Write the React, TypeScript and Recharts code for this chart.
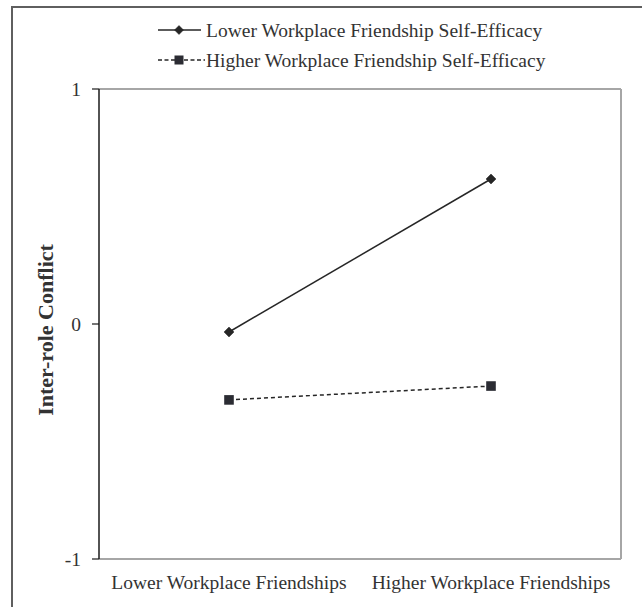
import React from "react";
import { LineChart, Line, XAxis, YAxis, CartesianGrid } from "recharts";

// values
const categories = ["Lower Workplace Friendships", "Higher Workplace Friendships"];
const lowerEfficacy = [-0.034, 0.617];
const higherEfficacy = [-0.323, -0.264];
const seriesNames = [
  "Lower Workplace Friendship Self-Efficacy",
  "Higher Workplace Friendship Self-Efficacy",
];
const yTicks = [-1, 0, 1];
const yTitle = "Inter-role Conflict";

const FONT = '"Liberation Serif", "Times New Roman", serif';
const INK = "#262626";
const TEXT = "#333333";
const FRAME = "#a6a6a6";

const data = categories.map((group, i) => ({
  group,
  lower: lowerEfficacy[i],
  higher: higherEfficacy[i],
}));

const Diamond = ({ cx, cy, size = 5 }: any) => {
  if (cx == null || cy == null) return null;
  return (
    <path
      d={`M${cx},${cy - size} L${cx + size},${cy} L${cx},${cy + size} L${cx - size},${cy} Z`}
      fill={INK}
      stroke={INK}
      strokeWidth={0.5}
    />
  );
};

const Square = ({ cx, cy, size = 4.8 }: any) => {
  if (cx == null || cy == null) return null;
  return (
    <rect
      x={cx - size}
      y={cy - size}
      width={size * 2}
      height={size * 2}
      fill="#2b2c33"
    />
  );
};

function LegendBlock() {
  return (
    <svg
      width={642}
      height={80}
      style={{ position: "absolute", left: 0, top: 0, pointerEvents: "none" }}
    >
      {/* row 1: solid + diamond */}
      <line x1={158} y1={30} x2={201} y2={30} stroke={INK} strokeWidth={1.5} />
      <Diamond cx={179} cy={30} size={4.5} />
      <text
        x={206}
        y={30}
        dominantBaseline="central"
        fontFamily={FONT}
        fontSize={19.5}
        fill={TEXT}
      >
        {seriesNames[0]}
      </text>
      {/* row 2: dashed + square */}
      <line
        x1={158}
        y1={60}
        x2={205}
        y2={60}
        stroke={INK}
        strokeWidth={1.5}
        strokeDasharray="4 2.5"
      />
      <Square cx={179} cy={60} size={4.5} />
      <text
        x={206}
        y={60}
        dominantBaseline="central"
        fontFamily={FONT}
        fontSize={19.5}
        fill={TEXT}
      >
        {seriesNames[1]}
      </text>
    </svg>
  );
}

export default function App() {
  return (
    <div
      style={{
        position: "absolute",
        left: 0,
        top: 0,
        width: 642,
        height: 607,
        overflow: "hidden",
        background: "#fff",
      }}
    >
      {/* outer frame, cut off at the right and bottom like the scan */}
      <div
        style={{
          position: "absolute",
          left: 11,
          top: 6,
          width: 700,
          height: 700,
          borderLeft: "2px solid #5f5f5f",
          borderTop: "2px solid #5f5f5f",
        }}
      />
      <div style={{ position: "absolute", left: 0, top: 0 }}>
        <LineChart
          width={642}
          height={607}
          data={data}
          margin={{ top: 89, right: 21, bottom: 0, left: 0 }}
        >
          {/* top and right edges of the plot frame */}
          <CartesianGrid
            stroke={FRAME}
            strokeWidth={2}
            horizontalCoordinatesGenerator={({ offset }: any) => [offset.top]}
            verticalCoordinatesGenerator={({ offset }: any) => [
              offset.left + offset.width,
            ]}
          />
          <XAxis
            dataKey="group"
            height={48}
            padding={{ left: 130, right: 130 }}
            tickLine={false}
            tickSize={6}
            tickMargin={10}
            axisLine={{ stroke: FRAME, strokeWidth: 2 }}
            tick={{ fontFamily: FONT, fontSize: 19.5, fill: TEXT }}
            interval={0}
          />
          <YAxis
            width={99}
            domain={[-1, 1]}
            ticks={yTicks}
            allowDataOverflow
            tickSize={7}
            tickMargin={11}
            axisLine={{ stroke: "#1a1a1a", strokeWidth: 1.5 }}
            tickLine={{ stroke: "#1a1a1a", strokeWidth: 1.2 }}
            tick={{ fontFamily: FONT, fontSize: 19.5, fill: TEXT }}
            label={{
              content: () => (
                <text
                  x={45}
                  y={330}
                  transform="rotate(-90 45 330)"
                  textAnchor="middle"
                  dominantBaseline="central"
                  fontFamily={FONT}
                  fontSize={22}
                  fontWeight="bold"
                  fill={TEXT}
                >
                  {yTitle}
                </text>
              ),
            }}
          />
          <Line
            dataKey="lower"
            name={seriesNames[0]}
            stroke={INK}
            strokeWidth={1.5}
            dot={(p: any) => <Diamond key={`d-${p.index}`} cx={p.cx} cy={p.cy} />}
            activeDot={false}
            isAnimationActive={false}
          />
          <Line
            dataKey="higher"
            name={seriesNames[1]}
            stroke={INK}
            strokeWidth={1.5}
            strokeDasharray="4 3"
            dot={(p: any) => <Square key={`s-${p.index}`} cx={p.cx} cy={p.cy} />}
            activeDot={false}
            isAnimationActive={false}
          />
        </LineChart>
      </div>
      <LegendBlock />
    </div>
  );
}
